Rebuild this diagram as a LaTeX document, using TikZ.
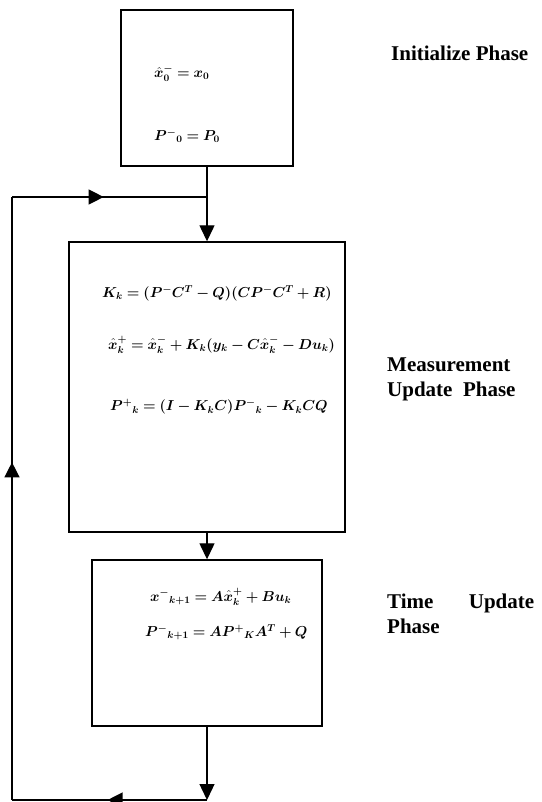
\documentclass[tikz,border=0pt]{standalone}
\usepackage{amsmath}
\usepackage{bm}
\usepackage{fontspec}
\setmainfont{Liberation Serif}
\usetikzlibrary{arrows.meta}
\usetikzlibrary{decorations.markings}
\usetikzlibrary{positioning}

\tikzset{
  phasebox/.style={draw, line width=1.4pt, inner sep=0pt},
  eqtext/.style={anchor=west, inner sep=0pt, font=\fontsize{14}{16}\selectfont},
  phaselabel/.style={anchor=west, align=left, inner sep=0pt,
    font=\fontsize{21}{25}\selectfont\bfseries},
  flowline/.style={line width=1.3pt},
  tip/.style={-{Triangle[length=16pt,width=15pt]}},
  midtip/.style={postaction={decorate}, decoration={markings,
    mark=at position #1 with {\arrow{Triangle[length=15pt,width=15pt]}}}}
}

\begin{document}
\begin{tikzpicture}[x=1pt, y=-1pt]
    \useasboundingbox (0, 0) rectangle (541, 802);

    % the three phases
    \node [phasebox, minimum width=172pt, minimum height=156pt] (init) at (207, 88) {};
    \node [phasebox, minimum width=276pt, minimum height=290pt] (meas) at (207, 387) {};
    \node [phasebox, minimum width=230pt, minimum height=166pt] (time) at (207, 643) {};

    \node [eqtext] (xinit) at (154, 73) {$\bm{\hat{x}{}^{-}_{0} = x_{0}}$};
    \node [eqtext] (pinit) at (154, 136) {$\bm{P^{-}{}_{0} = P_{0}}$};

    \node [eqtext] (gain) at (102, 293) {$\bm{K_{k} = (P^{-}C^{T} - Q)(CP^{-}C^{T} + R)}$};
    \node [eqtext] (xmeas) at (108, 345) {$\bm{\hat{x}{}^{+}_{k} = \hat{x}{}^{-}_{k} + K_{k}(y_{k} - C\hat{x}{}^{-}_{k} - Du_{k})}$};
    \node [eqtext] (pmeas) at (110, 407) {$\bm{P^{+}{}_{k} = (I - K_{k}C)P^{-}{}_{k} - K_{k}CQ}$};

    \node [eqtext] (xtime) at (150, 597) {$\bm{x^{-}{}_{k+1} = A\hat{x}{}^{+}_{k} + Bu_{k}}$};
    \node [eqtext] (ptime) at (145, 632) {$\bm{P^{-}{}_{k+1} = AP^{+}{}_{K}A^{T} + Q}$};

    \node [phaselabel] (initlabel) at (391, 53) {Initialize Phase};
    \node [phaselabel] (measlabel) at (387, 379) {Measurement\\Update\ \ Phase};
    \node [phaselabel, text width=147pt] (timelabel) at (387, 614) {Time\hfill Update\\Phase};

    % connectors and feedback loop
    \coordinate (join) at (init.south |- 0, 197);
    \coordinate (down) at (time.south |- 0, 800);
    \coordinate (lowleft) at (12, 800);
    \coordinate (upleft) at (12, 197);

    \draw [flowline] (init.south) -- (join);
    \draw [flowline, tip] (join) -- (meas.north);
    \draw [flowline, tip] (meas.south) -- (time.north);
    \draw [flowline, tip] (time.south) -- (down);
    \draw [flowline, midtip=0.51] (down) -- (lowleft);
    \draw [flowline, midtip=0.56] (lowleft) -- (upleft);
    \draw [flowline, midtip=0.47] (upleft) -- (join);
\end{tikzpicture}
\end{document}
